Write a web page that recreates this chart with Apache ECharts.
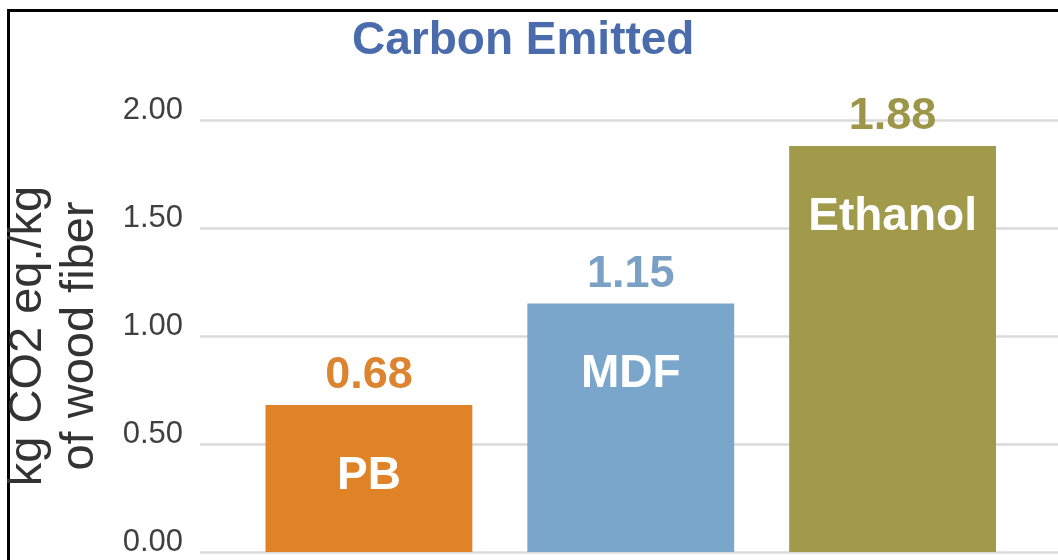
<!DOCTYPE html>
<html>
<head>
<meta charset="utf-8">
<script src="https://cdn.jsdelivr.net/npm/echarts@6/dist/echarts.min.js"></script>
<style>
  html, body { margin: 0; padding: 0; background: #ffffff; }
  #frame { position: absolute; left: 7px; top: 9px; width: 1100px; height: 600px;
           border-left: 3px solid #000; border-top: 3px solid #000; }
  #chart { position: absolute; left: 0; top: 0; width: 1058px; height: 560px; }
</style>
</head>
<body>
<div id="frame"></div>
<div id="chart"></div>
<script>
// ---- data ----
const categories = ['PB', 'MDF', 'Ethanol'];
const values = [0.68, 1.15, 1.88];
const yMin = 0, yMax = 2, yInterval = 0.5;
const titleText = 'Carbon Emitted';
const yAxisName = 'kg CO2 eq./kg\nof wood fiber';

// ---- styles ----
const barColors = ['#e08327', '#7ba6cb', '#a29a4b'];
const valueColors = ['#dc8430', '#7aa0c6', '#9d9548'];
const font = '"Liberation Sans", Arial, sans-serif';

const chart = echarts.init(document.getElementById('chart'), null, { renderer: 'canvas' });

const option = {
  animation: false,
  backgroundColor: 'transparent',
  title: {
    text: titleText,
    left: 352,
    top: 18,
    padding: 0,
    textStyle: { fontFamily: font, fontWeight: 'bold', fontSize: 46, color: '#4a6cad' }
  },
  grid: [
    { left: 238, right: 34.5, top: 120, bottom: 8, outerBoundsMode: 'none', containLabel: false },
    { left: 200, right: 0, top: 120, bottom: 8, outerBoundsMode: 'none', containLabel: false }
  ],
  xAxis: [
    { gridIndex: 0, type: 'category', data: categories, show: false },
    { gridIndex: 1, type: 'value', min: 0, max: 1, show: false }
  ],
  yAxis: [
    { gridIndex: 0, type: 'value', min: yMin, max: yMax, interval: yInterval, show: false },
    {
      gridIndex: 1, type: 'value', min: yMin, max: yMax, interval: yInterval,
      axisLine: { show: false }, axisTick: { show: false },
      splitLine: { show: true, lineStyle: { color: '#dadada', width: 2.5 } },
      axisLabel: {
        margin: 17, fontFamily: font, fontSize: 31, color: '#404040',
        verticalAlign: 'bottom', lineHeight: 20,
        formatter: v => v.toFixed(2)
      },
      name: yAxisName,
      nameLocation: 'middle',
      nameRotate: 90,
      nameGap: 94,
      nameTextStyle: { fontFamily: font, fontSize: 47, color: '#333333', lineHeight: 52 }
    }
  ],
  series: [
    {
      type: 'bar', xAxisIndex: 0, yAxisIndex: 0,
      data: values.map((v, i) => ({ value: v, itemStyle: { color: barColors[i] },
        label: { color: valueColors[i] } })),
      barCategoryGap: '21%',
      label: {
        show: true, position: 'top', distance: 7,
        fontFamily: font, fontWeight: 'bold', fontSize: 45,
        formatter: p => p.value.toFixed(2)
      }
    },
    {
      type: 'bar', xAxisIndex: 0, yAxisIndex: 0,
      data: values,
      barGap: '-100%',
      barCategoryGap: '21%',
      itemStyle: { color: 'rgba(0,0,0,0)' },
      label: {
        show: true, position: 'insideTop', distance: 48,
        fontFamily: font, fontWeight: 'bold', fontSize: 46, color: '#ffffff',
        formatter: p => categories[p.dataIndex]
      }
    }
  ]
};
chart.setOption(option);
</script>
</body>
</html>
